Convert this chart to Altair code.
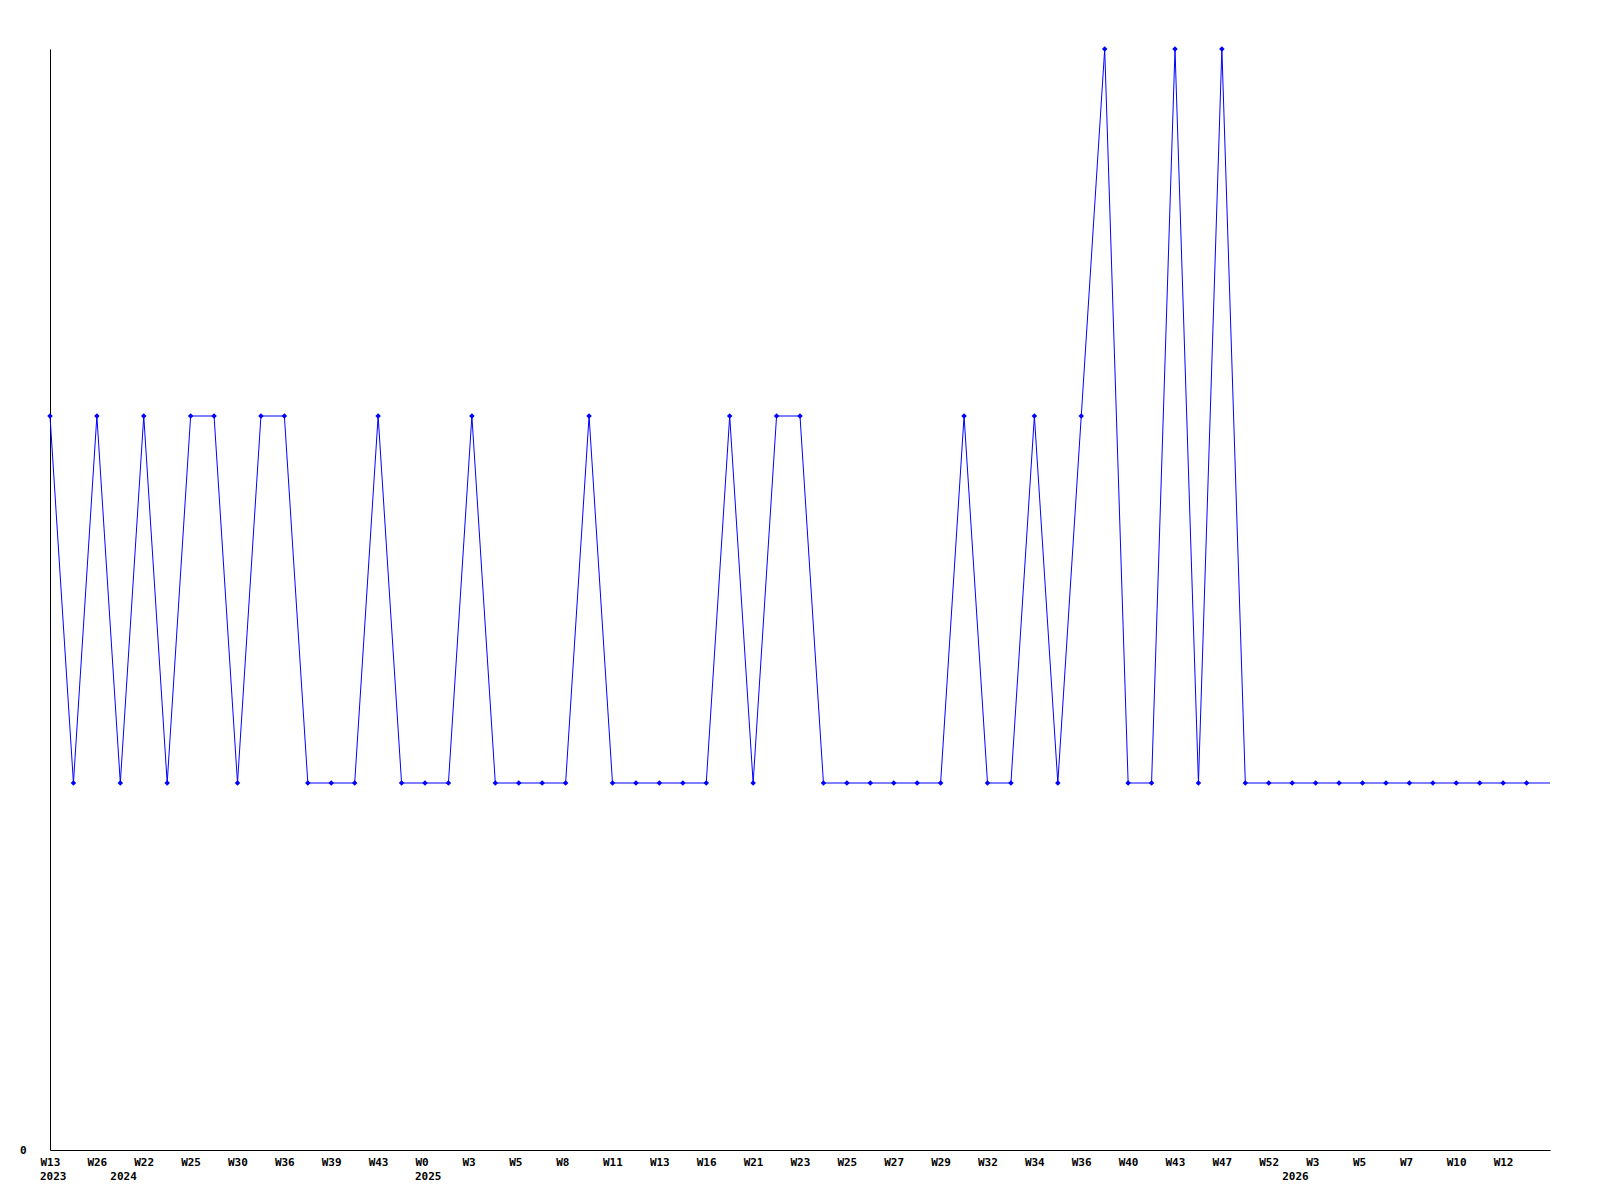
import altair as alt
import pandas as pd

values = [2, 1, 2, 1, 2, 1, 2, 2, 1, 2, 2, 1, 1, 1, 2, 1, 1, 1, 2, 1,
          1, 1, 1, 2, 1, 1, 1, 1, 1, 2, 1, 2, 2, 1, 1, 1, 1, 1, 1, 2,
          1, 1, 2, 1, 2, 3, 1, 1, 3, 1, 3, 1, 1, 1, 1, 1, 1, 1, 1, 1,
          1, 1, 1, 1, 1]
week_labels = ["W13", "W26", "W22", "W25", "W30", "W36", "W39", "W43", "W0", "W3",
               "W5", "W8", "W11", "W13", "W16", "W21", "W23", "W25", "W27", "W29",
               "W32", "W34", "W36", "W40", "W43", "W47", "W52", "W3", "W5", "W7",
               "W10", "W12"]
year_pos = [0, 3, 16, 53]
year_labels = ["2023", "2024", "2025", "2026"]

n_points = 64  # markers drawn for first 64 samples; line continues to the edge
W, H = 1500, 1101
FONT = "DejaVu Sans Mono"

df = pd.DataFrame({"i": list(range(len(values))), "v": values})
df_pts = df[df["i"] < n_points]
tick_vals = list(range(0, 2 * len(week_labels), 2))
label_map = "{" + ",".join(f"'{t}':'{l}'" for t, l in zip(tick_vals, week_labels)) + "}"
df_years = pd.DataFrame({"i": year_pos, "label": year_labels})

xscale = alt.Scale(domain=[0, 64], nice=False, zero=False)
yscale = alt.Scale(domain=[0, 3], nice=False)

xaxis = alt.Axis(values=tick_vals, labelExpr=f"{label_map}[datum.value]", ticks=False,
                 grid=False, title=None, labelAlign="left", labelOffset=-10,
                 labelPadding=6, labelFont=FONT, labelFontWeight="bold", labelFontSize=11,
                 labelColor="black", domainColor="black", labelOverlap=False,
                 labelBaseline="top", labelFlush=False)
yaxis = alt.Axis(values=[0], ticks=False, grid=False, title=None, labelPadding=24,
                 labelExpr="'0'", labelFont=FONT, labelFontWeight="bold", labelFontSize=11,
                 labelColor="black", domainColor="black", labelBaseline="middle")

line = alt.Chart(df).mark_line(color="#0000ff", strokeWidth=1).encode(
    x=alt.X("i:Q", scale=xscale, axis=xaxis),
    y=alt.Y("v:Q", scale=yscale, axis=yaxis),
)
pts = alt.Chart(df_pts).mark_point(shape="diamond", filled=True, color="#0000ff",
                                    size=30, opacity=1).encode(
    x=alt.X("i:Q", scale=xscale),
    y=alt.Y("v:Q", scale=yscale),
)
years = alt.Chart(df_years).mark_text(font=FONT, fontWeight="bold", fontSize=11,
                                      align="left", baseline="top", dx=-10,
                                      color="black").encode(
    x=alt.X("i:Q", scale=xscale),
    y=alt.value(H + 21),
    text="label:N",
)

chart = alt.layer(line, pts, years).properties(
    width=W, height=H,
    background="white",
    autosize=alt.AutoSizeParams(type="none"),
    padding={"left": 42, "top": 41, "right": 20, "bottom": 60},
).configure_view(stroke=None)

chart.save("out.html", embed_options={"renderer": "svg", "actions": False})
